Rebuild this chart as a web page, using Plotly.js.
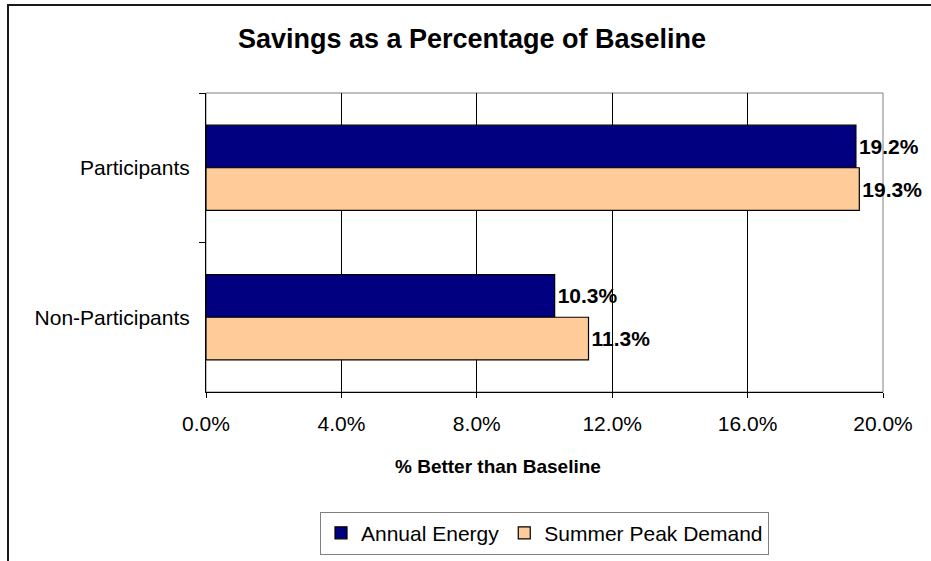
<!DOCTYPE html>
<html>
<head>
<meta charset="utf-8">
<script src="https://cdn.plot.ly/plotly-3.0.1.min.js"></script>
<style>
  html, body { margin: 0; padding: 0; background: #fff; overflow: hidden; }
  #frame {
    position: absolute; left: 7px; top: 4px;
    width: 1000px; height: 1000px;
    border: 2px solid #1a1a1a;
  }
  #chart { position: absolute; left: 0; top: 0; width: 931px; height: 561px; }
</style>
</head>
<body>
<div id="frame"></div>
<div id="chart"></div>
<script>
// Savings as a share of the baseline, by group
const groups = ["Participants", "Non-Participants"];
const annualEnergy = [0.192, 0.103];
const summerPeakDemand = [0.193, 0.113];
const xTicks = [0, 0.04, 0.08, 0.12, 0.16, 0.20];

const FONT = "Arial, 'Liberation Sans', sans-serif";

const barStyle = (name, values, color) => ({
  type: "bar",
  orientation: "h",
  name: name,
  y: groups,
  x: values,
  marker: { color: color, line: { color: "#000", width: 1.2 } },
  texttemplate: "%{x:.1%}",
  textposition: "outside",
  constraintext: "none",
  cliponaxis: false,
  textfont: { family: FONT, size: 21, color: "#000", weight: "bold" },
  hoverinfo: "skip"
});

const data = [
  barStyle("Annual Energy", annualEnergy, "#000080"),
  barStyle("Summer Peak Demand", summerPeakDemand, "#FFCC99")
];

const layout = {
  width: 931,
  height: 561,
  margin: { l: 206, r: 48, t: 93, b: 169 },
  paper_bgcolor: "rgba(0,0,0,0)",
  plot_bgcolor: "#fff",
  font: { family: FONT, color: "#000" },
  barmode: "group",
  bargap: 0.43,
  bargroupgap: 0,
  title: {
    text: "Savings as a Percentage of Baseline",
    font: { family: FONT, size: 27, weight: "bold", color: "#000" },
    xref: "container", x: 0.507, xanchor: "center",
    yref: "container", y: 1 - 39 / 561, yanchor: "middle"
  },
  xaxis: {
    range: [0, 0.20],
    tickvals: xTicks,
    tickformat: ".1%",
    ticks: "outside", ticklen: 5, tickcolor: "#000", tickwidth: 1,
    showline: true, linecolor: "#000", linewidth: 1,
    showgrid: true, gridcolor: "#000", gridwidth: 1,
    zeroline: false,
    tickfont: { family: FONT, size: 21, color: "#000" },
    ticklabelstandoff: 8,
    fixedrange: true
  },
  yaxis: {
    type: "category",
    autorange: "reversed",
    tickson: "boundaries",
    ticks: "outside", ticklen: 6, tickcolor: "#000", tickwidth: 1,
    showline: true, linecolor: "#000", linewidth: 1,
    showgrid: false,
    zeroline: false,
    tickfont: { family: FONT, size: 21, color: "#000" },
    ticklabelstandoff: 11,
    fixedrange: true
  },
  shapes: [{
    type: "rect", xref: "paper", yref: "paper",
    x0: 0, x1: 1, y0: 0, y1: 1,
    line: { color: "#808080", width: 1 },
    layer: "below"
  }],
  annotations: [{
    // value-axis caption
    text: "<b>% Better than Baseline</b>",
    xref: "paper", yref: "paper",
    x: 0.431, y: -0.248,
    xanchor: "center", yanchor: "middle",
    showarrow: false,
    font: { family: FONT, size: 19, color: "#000" }
  }],
  showlegend: true,
  legend: {
    orientation: "h",
    xref: "paper", x: 0.5, xanchor: "center",
    yref: "container", y: 0.088, yanchor: "top",
    bgcolor: "#fff",
    bordercolor: "#808080", borderwidth: 1,
    font: { family: FONT, size: 21, color: "#000" },
    traceorder: "normal"
  }
};

Plotly.newPlot("chart", data, layout, { staticPlot: true, displayModeBar: false });
</script>
</body>
</html>
